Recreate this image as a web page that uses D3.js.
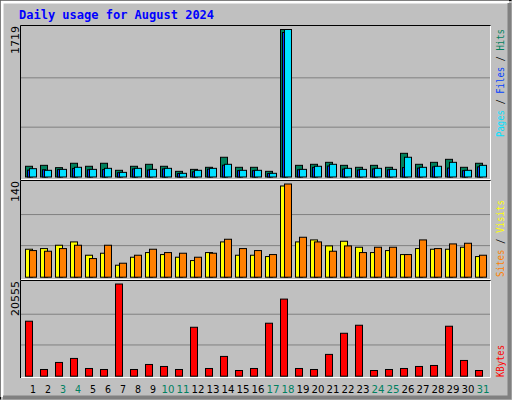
<!DOCTYPE html><html><head><meta charset="utf-8">
<script src="https://cdn.jsdelivr.net/npm/d3@7"></script>
<style>body{margin:0;background:#fff}</style></head><body><svg id="c" width="512" height="400"></svg>
<script>
const days = d3.range(1,32);
const weekend = [3,4,10,11,17,18,24,25,31];
const hits  = [125,136,109,160,125,160,78,125,148,125,66,89,113,230,113,113,66,1719,136,148,171,136,113,136,113,276,148,171,206,113,160];
const files = [80,84,86,100,84,86,50,94,82,94,40,60,92,138,74,74,40,1684,84,112,128,92,82,94,84,110,104,118,104,74,118];
const pages = [97,78,89,113,89,101,54,101,89,101,43,78,101,148,78,78,43,1719,89,125,148,101,89,101,89,230,113,125,171,78,136];
const visits = [42,43,48,53,33,36,18,30,37,34,30,25,37,53,33,33,31,137,53,56,47,54,45,37,40,34,43,42,42,45,31];
const sites  = [40,39,43,48,28,48,21,33,42,37,36,30,36,57,43,40,34,140,60,53,39,47,37,45,45,34,56,43,50,51,33];
const kbytes = [12260,1495,3065,3960,1720,1495,20555,1495,2615,2170,1495,10910,1720,4410,1270,1720,11810,17190,1720,1495,4860,9570,11360,1270,1495,1720,2170,2390,11140,3510,1270];
const maxLabels = ["1719","140","20555"];

const svg = d3.select("#c");
svg.append("rect").attr("width",512).attr("height",400).attr("fill","#c0c0c0");
svg.append("path").attr("d","M0.5,399.5V0.5H511.5").attr("stroke","#000").attr("fill","none");
svg.append("path").attr("d","M2,397V2H509").attr("stroke","#fff").attr("stroke-width",3).attr("fill","none");
svg.append("path").attr("d","M3,397.5H509.5V3").attr("stroke","#808080").attr("stroke-width",4).attr("fill","none");
svg.append("text").attr("x",19).attr("y",19).text("Daily usage for August 2024")
  .attr("font-family","DejaVu Sans Mono").attr("font-weight","bold").attr("font-size",12).attr("fill","#0000ff");

const X = d => 25 + (d-1)*15;
const panels = [
 {top:25,bot:176.5,max:1719,series:[[hits,"#00805c",0],[files,"#0040ff",2],[pages,"#00e0ff",4]]},
 {top:180,bot:276.7,max:140,series:[[visits,"#ffff00",0],[sites,"#ff8000",4]]},
 {top:280,bot:375.7,max:20555,series:[[kbytes,"#ff0000",0]]}
];
const ends=[180,280,378];
panels.forEach((p,i)=>{
  const y = d3.scaleLinear().domain([0,p.max]).range([p.bot, p.top+(i==0?4:3.5)]);
  const h = p.bot-(p.top+3.5);
  [1,2].forEach(k=>svg.append("line").attr("x1",21).attr("x2",490).attr("y1",p.bot-h*k/3).attr("y2",p.bot-h*k/3).attr("stroke","#808080"));
  svg.append("path").attr("d",`M20.5,${ends[i]}V${p.top}.5H490.5`).attr("stroke","#000").attr("fill","none");
  svg.append("path").attr("d",`M21,${ends[i]-0.5}H490.5V${p.top+1}`).attr("stroke","#fff").attr("fill","none");
  p.series.forEach(([vals,col,off])=>{
    svg.append("g").selectAll("rect").data(days).join("rect")
      .attr("x",d=>X(d)+off+0.5).attr("width",off==2?3:7).attr("y",d=>y(vals[d-1])+0.5)
      .attr("height",d=>p.bot-y(vals[d-1])).attr("fill",col).attr("stroke","#000");
  });
  svg.append("text").attr("transform",`translate(19,${p.top+1}) rotate(-90)`).attr("text-anchor","end")
    .attr("font-family","DejaVu Sans").attr("font-size",11).text(maxLabels[i]);
});
function vlabel(yb, len, parts){
  const t=svg.append("text").attr("transform",`translate(504,${yb}) rotate(-90)`)
   .attr("font-family","DejaVu Sans Mono").attr("font-size",11)
   .attr("textLength",len).attr("lengthAdjust","spacingAndGlyphs");
  parts.forEach(([s,c])=>t.append("tspan").attr("fill",c).text(s));
}
vlabel(137,108,[["Pages","#00e0ff"],[" / ","#000"],["Files","#0040ff"],[" / ","#000"],["Hits","#00805c"]]);
vlabel(277,77,[["Sites","#ff8000"],[" / ","#000"],["Visits","#ffff00"]]);
vlabel(377,32,[["KBytes","#ff0000"]]);
svg.append("g").selectAll("text").data(days).join("text")
  .attr("x",d=>X(d)+8).attr("y",393).attr("text-anchor","middle")
  .attr("font-family","DejaVu Sans").attr("font-size",11)
  .attr("textLength",d=>d<10?6:13).attr("lengthAdjust","spacingAndGlyphs")
  .attr("fill",d=>weekend.includes(d)?"#008060":"#000").text(d=>d);
</script></body></html>
